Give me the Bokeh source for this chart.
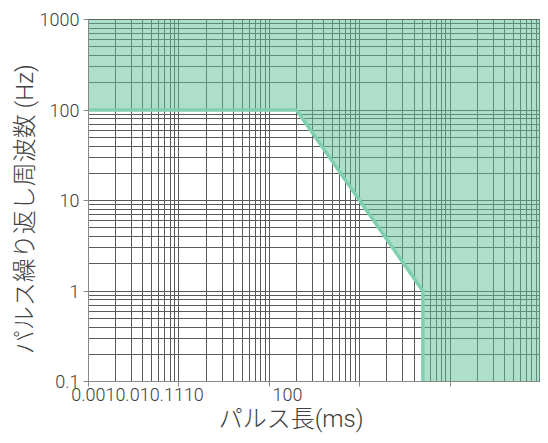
from bokeh.plotting import figure
from bokeh.models import FixedTicker, LogAxis
from bokeh.embed import file_html
from bokeh.resources import INLINE

# ---- data ----
pulse_length_ms = [0.001, 0.2, 5, 5]      # boundary of the allowed region
rep_freq_hz = [100, 100, 1, 0.1]
x_limits = [0.001, 100]
y_limits = [0.1, 1000]
x_decades = [0.001, 0.01, 0.1, 1, 10, 100]
y_decades = [0.1, 1, 10, 100, 1000]
x_tick_labels = ["0.001", "0.01", "0.1", "1", "10", "100"]
y_tick_labels = ["0.1", "1", "10", "100", "1000"]
x_title = "パルス長(ms)"
y_title = "パルス繰り返し周波数 (Hz)"

TICK_FONT = "Roboto Light, Roboto"
TITLE_FONT = "Roboto Light, Noto Sans CJK JP Light, Noto Sans CJK JP"
TEXT_COLOR = "#404040"
GRID_COLOR = "#5a5a5a"
AXIS_COLOR = "#888888"
NBSP = "\u00a0"

x_minor = [m * d for d in x_decades[:-1] for m in range(2, 10)]
y_minor = [m * d for d in y_decades[:-1] for m in range(2, 10)]

p = figure(width=540, height=435, x_axis_type="log", y_axis_type="log",
           x_range=tuple(x_limits), y_range=tuple(y_limits),
           output_backend="svg", toolbar_location=None,
           min_border_left=88, min_border_right=0,
           min_border_top=19, min_border_bottom=50)
p.background_fill_color = "white"
p.border_fill_color = "white"
p.outline_line_color = GRID_COLOR

# shaded region above the limit curve
fill_x = pulse_length_ms + [x_limits[1], x_limits[1], x_limits[0]]
fill_y = rep_freq_hz + [y_limits[0], y_limits[1], y_limits[1]]
p.patch(fill_x, fill_y, fill_color="#5dbf95", fill_alpha=0.5, line_color=None)
p.line(pulse_length_ms, rep_freq_hz, line_color="#7fd0ad", line_width=3.5)

# grids
for g in (p.xgrid, p.ygrid):
    g.grid_line_color = GRID_COLOR
    g.grid_line_width = 1
    g.minor_grid_line_color = GRID_COLOR
    g.minor_grid_line_width = 1

# main x axis: decade tick marks only
xa = p.xaxis[0]
xa.ticker = FixedTicker(ticks=x_decades, minor_ticks=x_minor)
xa.major_label_overrides = {t: "" for t in x_decades}
xa.major_label_text_font_size = "0px"
xa.major_label_standoff = 0
xa.axis_line_color = AXIS_COLOR
xa.major_tick_line_color = AXIS_COLOR
xa.major_tick_out = 5
xa.major_tick_in = 0
xa.minor_tick_line_color = None

# second x axis carrying the tick texts where the reference shows them
# (label centres: 49 px and 201 px right of the frame's left edge)
label_pos = [x_decades[0] * 10 ** (49 / 90.4), x_decades[0] * 10 ** (199 / 90.4)]
xb = LogAxis(ticker=FixedTicker(ticks=label_pos, minor_ticks=[]))
xb.major_label_overrides = {label_pos[0]: "".join(x_tick_labels[:5]),
                            label_pos[1]: x_tick_labels[5]}
xb.major_label_text_font = TICK_FONT
xb.major_label_text_font_size = "18px"
xb.major_label_text_color = TEXT_COLOR
xb.major_label_standoff = 1
xb.axis_line_color = None
xb.major_tick_line_color = None
xb.major_tick_out = 0
xb.major_tick_in = 0
xb.minor_tick_line_color = None
xb.axis_label = x_title + NBSP * 8
xb.axis_label_text_font = TITLE_FONT
xb.axis_label_text_font_size = "24px"
xb.axis_label_text_font_style = "normal"
xb.axis_label_text_color = TEXT_COLOR
xb.axis_label_standoff = 1
p.add_layout(xb, "below")

ya = p.yaxis[0]
ya.ticker = FixedTicker(ticks=y_decades, minor_ticks=y_minor)
ya.major_label_overrides = dict(zip(y_decades, y_tick_labels))
ya.major_label_text_font = TICK_FONT
ya.major_label_text_font_size = "18px"
ya.major_label_text_color = TEXT_COLOR
ya.major_label_standoff = 4
ya.axis_line_color = AXIS_COLOR
ya.major_tick_line_color = AXIS_COLOR
ya.major_tick_out = 5
ya.major_tick_in = 0
ya.minor_tick_line_color = None
ya.axis_label = y_title + NBSP * 3
ya.axis_label_text_font = TITLE_FONT
ya.axis_label_text_font_size = "24px"
ya.axis_label_text_font_style = "normal"
ya.axis_label_text_color = TEXT_COLOR
ya.axis_label_standoff = -2

open("out.html", "w").write(file_html(p, INLINE))
